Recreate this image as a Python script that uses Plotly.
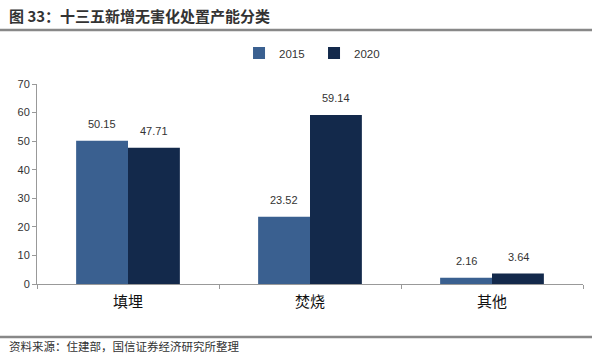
import plotly.graph_objects as go

categories = ["填埋", "焚烧", "其他"]
series_2015 = [50.15, 23.52, 2.16]
series_2020 = [47.71, 59.14, 3.64]
series_names = ["2015", "2020"]
y_ticks = [0, 10, 20, 30, 40, 50, 60, 70]

c2015 = "#3A6090"
c2020 = "#13294B"

fig = go.Figure()
fig.add_bar(x=categories, y=series_2015, name=series_names[0], marker_color=c2015,
            marker_line_width=0)
fig.add_bar(x=categories, y=series_2020, name=series_names[1], marker_color=c2020,
            marker_line_width=0)

for vals, shift in ((series_2015, -26), (series_2020, 26)):
    for c, v in zip(categories, vals):
        fig.add_annotation(x=c, y=v, text=f"{v:.2f}", showarrow=False,
                           xshift=shift, yshift=17,
                           font=dict(size=11, color="#333333", family="Liberation Sans, Arial"))

fig.add_annotation(xref="paper", yref="paper", x=-0.055, y=1.345, xanchor="left", yanchor="middle",
                   text="<b>图 33：十三五新增无害化处置产能分类</b>", showarrow=False,
                   font=dict(size=15, color="#333333", family="Noto Sans CJK SC"))
fig.add_annotation(xref="paper", yref="paper", x=-0.055, y=-0.31, xanchor="left", yanchor="middle",
                   text="资料来源：住建部，国信证券经济研究所整理", showarrow=False,
                   font=dict(size=11.5, color="#333333", family="Noto Sans CJK SC"))

fig.add_shape(type="line", xref="paper", yref="paper", x0=-0.07, x1=1.02, y0=1.27, y1=1.27,
              line=dict(color="#888888", width=2.5))
fig.add_shape(type="line", xref="paper", yref="paper", x0=-0.07, x1=1.02, y0=-0.265, y1=-0.265,
              line=dict(color="#888888", width=2.5))

fig.update_layout(
    width=592, height=355,
    margin=dict(l=37, r=9, t=84, b=71),
    plot_bgcolor="white", paper_bgcolor="white",
    barmode="group", bargap=0.43, bargroupgap=0,
    showlegend=True,
    legend=dict(orientation="h", x=0.37, y=1.155, xanchor="left", yanchor="middle",
                font=dict(size=11.5, color="#333333", family="Liberation Sans, Arial"),
                traceorder="normal", itemsizing="constant", tracegroupgap=0,
                entrywidth=30),
    xaxis=dict(showline=True, linecolor="#999999", linewidth=1, ticks="outside",
               tickson="boundaries", ticklen=4, tickcolor="#999999",
               tickfont=dict(size=15, color="#111111", family="Noto Sans CJK SC"),
               showgrid=False, ticklabelstandoff=4),
    yaxis=dict(range=[0, 70], tickvals=y_ticks, showline=True, linecolor="#999999",
               linewidth=1, ticks="outside", ticklen=4, tickcolor="#999999",
               showgrid=False, zeroline=False,
               tickfont=dict(size=11, color="#333333", family="Liberation Sans, Arial")),
)

fig.write_html("out.html")
